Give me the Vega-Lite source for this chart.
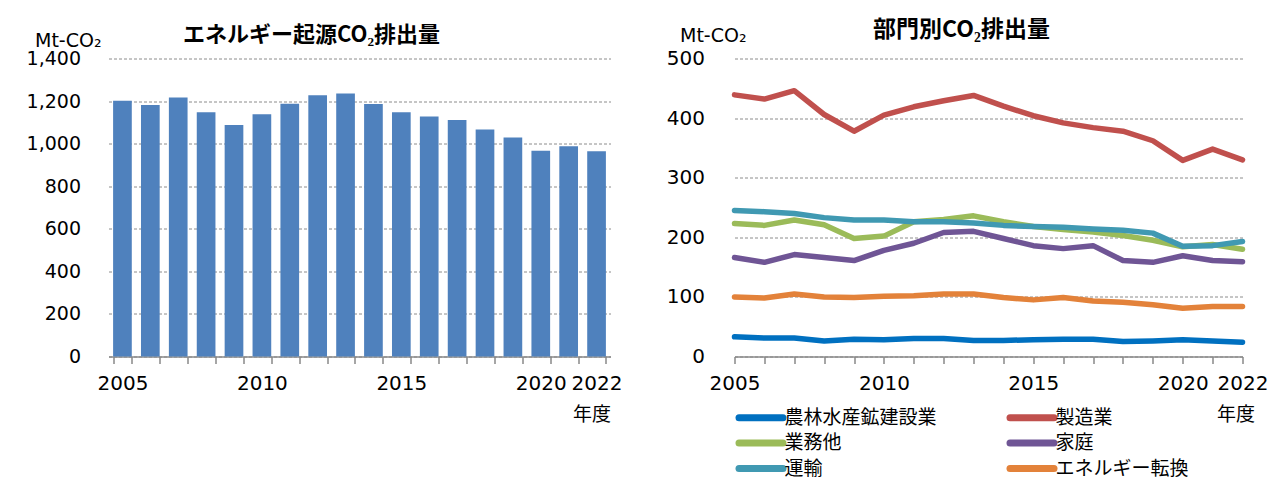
{
  "$schema": "https://vega.github.io/schema/vega-lite/v6.json",
  "background": "white",
  "padding": {"left": 25.5, "top": 18.5, "right": 0, "bottom": 0},
  "spacing": 43,
  "resolve": {"legend": {"color": "independent"}, "scale": {"color": "independent"}},
  "config": {
    "view": {"stroke": null},
    "font": "Noto Sans CJK JP",
    "axis": {
      "labelFont": "DejaVu Sans",
      "labelColor": "#000000",
      "titleFont": "Noto Sans CJK JP",
      "titleColor": "#000000",
      "titleFontWeight": "normal",
      "domainColor": "#888888",
      "tickColor": "#888888",
      "gridColor": "#8c8c8c",
      "gridDash": [3, 2],
      "gridWidth": 1
    },
    "title": {"font": "Noto Sans CJK JP", "fontWeight": "bold", "fontSize": 22, "color": "#000000", "baseline": "bottom"}
  },
  "datasets": {
    "total": [
      {"year": 2005, "value": 1201}, {"year": 2006, "value": 1182}, {"year": 2007, "value": 1217},
      {"year": 2008, "value": 1148}, {"year": 2009, "value": 1088}, {"year": 2010, "value": 1138},
      {"year": 2011, "value": 1188}, {"year": 2012, "value": 1227}, {"year": 2013, "value": 1235},
      {"year": 2014, "value": 1186}, {"year": 2015, "value": 1147}, {"year": 2016, "value": 1127},
      {"year": 2017, "value": 1111}, {"year": 2018, "value": 1066}, {"year": 2019, "value": 1029},
      {"year": 2020, "value": 967}, {"year": 2021, "value": 988}, {"year": 2022, "value": 964}
    ],
    "sector": [
      {"year": 2005, "sector": "農林水産鉱建設業", "value": 33}, {"year": 2006, "sector": "農林水産鉱建設業", "value": 31},
      {"year": 2007, "sector": "農林水産鉱建設業", "value": 31}, {"year": 2008, "sector": "農林水産鉱建設業", "value": 26},
      {"year": 2009, "sector": "農林水産鉱建設業", "value": 29}, {"year": 2010, "sector": "農林水産鉱建設業", "value": 28},
      {"year": 2011, "sector": "農林水産鉱建設業", "value": 30}, {"year": 2012, "sector": "農林水産鉱建設業", "value": 30},
      {"year": 2013, "sector": "農林水産鉱建設業", "value": 27}, {"year": 2014, "sector": "農林水産鉱建設業", "value": 27},
      {"year": 2015, "sector": "農林水産鉱建設業", "value": 28}, {"year": 2016, "sector": "農林水産鉱建設業", "value": 29},
      {"year": 2017, "sector": "農林水産鉱建設業", "value": 29}, {"year": 2018, "sector": "農林水産鉱建設業", "value": 25},
      {"year": 2019, "sector": "農林水産鉱建設業", "value": 26}, {"year": 2020, "sector": "農林水産鉱建設業", "value": 28},
      {"year": 2021, "sector": "農林水産鉱建設業", "value": 26}, {"year": 2022, "sector": "農林水産鉱建設業", "value": 24},

      {"year": 2005, "sector": "製造業", "value": 439}, {"year": 2006, "sector": "製造業", "value": 432},
      {"year": 2007, "sector": "製造業", "value": 446}, {"year": 2008, "sector": "製造業", "value": 406},
      {"year": 2009, "sector": "製造業", "value": 378}, {"year": 2010, "sector": "製造業", "value": 405},
      {"year": 2011, "sector": "製造業", "value": 419}, {"year": 2012, "sector": "製造業", "value": 429},
      {"year": 2013, "sector": "製造業", "value": 438}, {"year": 2014, "sector": "製造業", "value": 420},
      {"year": 2015, "sector": "製造業", "value": 404}, {"year": 2016, "sector": "製造業", "value": 392},
      {"year": 2017, "sector": "製造業", "value": 384}, {"year": 2018, "sector": "製造業", "value": 378},
      {"year": 2019, "sector": "製造業", "value": 362}, {"year": 2020, "sector": "製造業", "value": 329},
      {"year": 2021, "sector": "製造業", "value": 348}, {"year": 2022, "sector": "製造業", "value": 330},

      {"year": 2005, "sector": "業務他", "value": 223}, {"year": 2006, "sector": "業務他", "value": 220},
      {"year": 2007, "sector": "業務他", "value": 229}, {"year": 2008, "sector": "業務他", "value": 221},
      {"year": 2009, "sector": "業務他", "value": 198}, {"year": 2010, "sector": "業務他", "value": 202},
      {"year": 2011, "sector": "業務他", "value": 226}, {"year": 2012, "sector": "業務他", "value": 230},
      {"year": 2013, "sector": "業務他", "value": 236}, {"year": 2014, "sector": "業務他", "value": 226},
      {"year": 2015, "sector": "業務他", "value": 218}, {"year": 2016, "sector": "業務他", "value": 213},
      {"year": 2017, "sector": "業務他", "value": 209}, {"year": 2018, "sector": "業務他", "value": 203},
      {"year": 2019, "sector": "業務他", "value": 195}, {"year": 2020, "sector": "業務他", "value": 184},
      {"year": 2021, "sector": "業務他", "value": 188}, {"year": 2022, "sector": "業務他", "value": 180},

      {"year": 2005, "sector": "家庭", "value": 166}, {"year": 2006, "sector": "家庭", "value": 158},
      {"year": 2007, "sector": "家庭", "value": 171}, {"year": 2008, "sector": "家庭", "value": 166},
      {"year": 2009, "sector": "家庭", "value": 161}, {"year": 2010, "sector": "家庭", "value": 178},
      {"year": 2011, "sector": "家庭", "value": 190}, {"year": 2012, "sector": "家庭", "value": 208},
      {"year": 2013, "sector": "家庭", "value": 210}, {"year": 2014, "sector": "家庭", "value": 198},
      {"year": 2015, "sector": "家庭", "value": 186}, {"year": 2016, "sector": "家庭", "value": 181},
      {"year": 2017, "sector": "家庭", "value": 186}, {"year": 2018, "sector": "家庭", "value": 161},
      {"year": 2019, "sector": "家庭", "value": 158}, {"year": 2020, "sector": "家庭", "value": 169},
      {"year": 2021, "sector": "家庭", "value": 161}, {"year": 2022, "sector": "家庭", "value": 159},

      {"year": 2005, "sector": "運輸", "value": 245}, {"year": 2006, "sector": "運輸", "value": 243},
      {"year": 2007, "sector": "運輸", "value": 240}, {"year": 2008, "sector": "運輸", "value": 233},
      {"year": 2009, "sector": "運輸", "value": 229}, {"year": 2010, "sector": "運輸", "value": 229},
      {"year": 2011, "sector": "運輸", "value": 226}, {"year": 2012, "sector": "運輸", "value": 226},
      {"year": 2013, "sector": "運輸", "value": 224}, {"year": 2014, "sector": "運輸", "value": 220},
      {"year": 2015, "sector": "運輸", "value": 218}, {"year": 2016, "sector": "運輸", "value": 217},
      {"year": 2017, "sector": "運輸", "value": 214}, {"year": 2018, "sector": "運輸", "value": 212},
      {"year": 2019, "sector": "運輸", "value": 207}, {"year": 2020, "sector": "運輸", "value": 185},
      {"year": 2021, "sector": "運輸", "value": 186}, {"year": 2022, "sector": "運輸", "value": 193},

      {"year": 2005, "sector": "エネルギー転換", "value": 100}, {"year": 2006, "sector": "エネルギー転換", "value": 98},
      {"year": 2007, "sector": "エネルギー転換", "value": 105}, {"year": 2008, "sector": "エネルギー転換", "value": 100},
      {"year": 2009, "sector": "エネルギー転換", "value": 99}, {"year": 2010, "sector": "エネルギー転換", "value": 101},
      {"year": 2011, "sector": "エネルギー転換", "value": 102}, {"year": 2012, "sector": "エネルギー転換", "value": 105},
      {"year": 2013, "sector": "エネルギー転換", "value": 105}, {"year": 2014, "sector": "エネルギー転換", "value": 99},
      {"year": 2015, "sector": "エネルギー転換", "value": 95}, {"year": 2016, "sector": "エネルギー転換", "value": 99},
      {"year": 2017, "sector": "エネルギー転換", "value": 93}, {"year": 2018, "sector": "エネルギー転換", "value": 91},
      {"year": 2019, "sector": "エネルギー転換", "value": 87}, {"year": 2020, "sector": "エネルギー転換", "value": 81},
      {"year": 2021, "sector": "エネルギー転換", "value": 84}, {"year": 2022, "sector": "エネルギー転換", "value": 84}
    ]
  },
  "hconcat": [
    {
      "width": 502,
      "height": 298,
      "title": {"text": "エネルギー起源CO₂排出量", "anchor": "middle", "frame": "group", "dx": -48, "offset": -15},
      "data": {"name": "total"},
      "mark": {"type": "bar", "color": "#4F81BD"},
      "encoding": {
        "x": {
          "field": "year", "type": "ordinal",
          "scale": {"paddingInner": 0.33, "paddingOuter": 0.165},
          "axis": {
            "title": "年度", "titleFontSize": 19, "titleAlign": "right", "titleAnchor": "end",
            "titleX": 502, "titleY": 64, "titleBaseline": "alphabetic",
            "labelAngle": 0, "labelFontSize": 20, "labelPadding": 10, "labelOverlap": false,
            "labelExpr": "indexof([2005,2010,2015,2020,2022], datum.value) >= 0 ? datum.label : ''",
            "tickBand": "extent", "tickSize": 7, "domainWidth": 1.5, "tickWidth": 1.5, "grid": false
          }
        },
        "y": {
          "field": "value", "type": "quantitative",
          "scale": {"domain": [0, 1400], "nice": false},
          "axis": {
            "values": [0, 200, 400, 600, 800, 1000, 1200, 1400], "format": ",d",
            "grid": true, "domain": false, "ticks": false,
            "labelFontSize": 19, "labelPadding": 28,
            "title": "Mt-CO₂", "titleFont": "DejaVu Sans", "titleFontSize": 19, "titleAngle": 0,
            "titleAlign": "left", "titleBaseline": "alphabetic", "titleX": -74, "titleY": -12
          }
        }
      }
    },
    {
      "width": 508,
      "height": 298,
      "title": {"text": "部門別CO₂排出量", "fontSize": 23, "anchor": "middle", "frame": "group", "dx": -27, "offset": -15},
      "data": {"name": "sector"},
      "mark": {"type": "line", "strokeWidth": 5.5, "strokeCap": "round", "strokeJoin": "round"},
      "encoding": {
        "x": {
          "field": "year", "type": "quantitative",
          "scale": {"domain": [2005, 2022], "nice": false, "zero": false},
          "axis": {
            "title": "年度", "titleFontSize": 19, "titleAlign": "right", "titleAnchor": "end",
            "titleX": 520, "titleY": 64, "titleBaseline": "alphabetic",
            "values": [2005, 2006, 2007, 2008, 2009, 2010, 2011, 2012, 2013, 2014, 2015, 2016, 2017, 2018, 2019, 2020, 2021, 2022],
            "format": "d", "labelFontSize": 20, "labelPadding": 10, "labelOverlap": false, "labelFlush": false,
            "labelExpr": "indexof([2005,2010,2015,2020,2022], datum.value) >= 0 ? datum.label : ''",
            "tickSize": 7, "domainWidth": 1.5, "tickWidth": 1.5, "grid": false
          }
        },
        "y": {
          "field": "value", "type": "quantitative",
          "scale": {"domain": [0, 500], "nice": false},
          "axis": {
            "values": [0, 100, 200, 300, 400, 500],
            "grid": true, "domain": false, "ticks": false,
            "labelFontSize": 20, "labelPadding": 30,
            "title": "Mt-CO₂", "titleFont": "DejaVu Sans", "titleFontSize": 19, "titleAngle": 0,
            "titleAlign": "left", "titleBaseline": "alphabetic", "titleX": -55, "titleY": -17
          }
        },
        "color": {
          "field": "sector", "type": "nominal",
          "scale": {
            "domain": ["農林水産鉱建設業", "業務他", "運輸", "製造業", "家庭", "エネルギー転換"],
            "range": ["#0070C0", "#9BBB59", "#4099B2", "#C0504D", "#6F5595", "#E3823A"]
          },
          "legend": {
            "title": null, "orient": "none", "legendX": 17, "legendY": 349.5,
            "columns": 2, "columnPadding": 58, "rowPadding": -3.5,
            "symbolType": "M-4.4,0H4.4", "symbolSize": 100, "symbolStrokeWidth": 7,
            "labelFont": "Noto Sans CJK JP", "labelFontSize": 19, "labelOffset": 14, "labelColor": "#000000",
            "encode": {"symbols": {"update": {"strokeCap": {"value": "round"}}}}
          }
        }
      }
    }
  ]
}
